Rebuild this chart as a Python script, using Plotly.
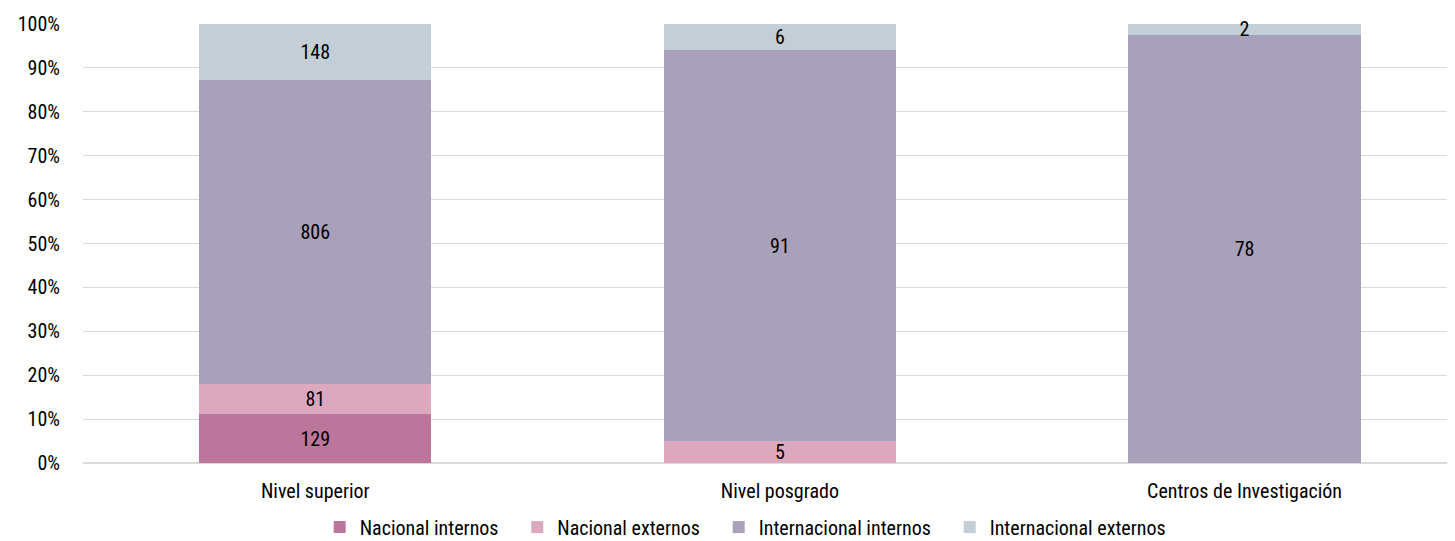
import plotly.graph_objects as go

categories = ["Nivel superior", "Nivel posgrado", "Centros de Investigación"]
series_names = ["Nacional internos", "Nacional externos", "Internacional internos", "Internacional externos"]
nacional_internos = [129, 0, 0]
nacional_externos = [81, 5, 0]
internacional_internos = [806, 91, 78]
internacional_externos = [148, 6, 2]
colors = ["#BC769C", "#DCA8BE", "#A9A1B9", "#C4CED7"]
y_ticks = [0, 10, 20, 30, 40, 50, 60, 70, 80, 90, 100]

FONT = "Roboto Condensed, sans-serif"
PAD = "\u00a0" * 3

fig = go.Figure()
all_series = [nacional_internos, nacional_externos, internacional_internos, internacional_externos]
for i, (name, vals, col) in enumerate(zip(series_names, all_series, colors)):
    fig.add_trace(go.Bar(
        x=categories, y=vals, name=name + (PAD if i < 3 else ""), marker_color=col, marker_line_width=0,
        text=[str(v) if v else "" for v in vals],
        textposition="inside", insidetextanchor="middle", constraintext="none",
        textangle=0,
        textfont=dict(family=FONT, size=20, color="#000000"),
        cliponaxis=False,
    ))

# page body has an 8px margin, so the figure is sized to fill the remaining window
fig.update_layout(
    barmode="stack", barnorm="percent", bargap=0.5,
    width=1447, height=533,
    margin=dict(l=75, r=0, t=16, b=78, autoexpand=False),
    plot_bgcolor="white", paper_bgcolor="white",
    font=dict(family=FONT, size=20, color="#000000"),
    showlegend=True,
    legend=dict(orientation="h", x=0.483, xanchor="center", yref="paper", y=-0.146, yanchor="middle",
                font=dict(family=FONT, size=20), traceorder="normal", itemwidth=30,
                tracegroupgap=0),
)
fig.update_xaxes(range=[-0.5, 2.453], showgrid=False, showline=False, ticks="", automargin=False,
                 ticklabelstandoff=14, tickfont=dict(family=FONT, size=20))
fig.update_yaxes(range=[0, 100], tickvals=y_ticks, ticktext=[f"{v}%" for v in y_ticks], automargin=False,
                 showgrid=True, gridcolor="#D9D9D9", gridwidth=1, zeroline=True,
                 zerolinecolor="#D9D9D9", zerolinewidth=2, ticks="", ticklabelstandoff=22,
                 tickfont=dict(family=FONT, size=20))

fig.write_html("out.html")
